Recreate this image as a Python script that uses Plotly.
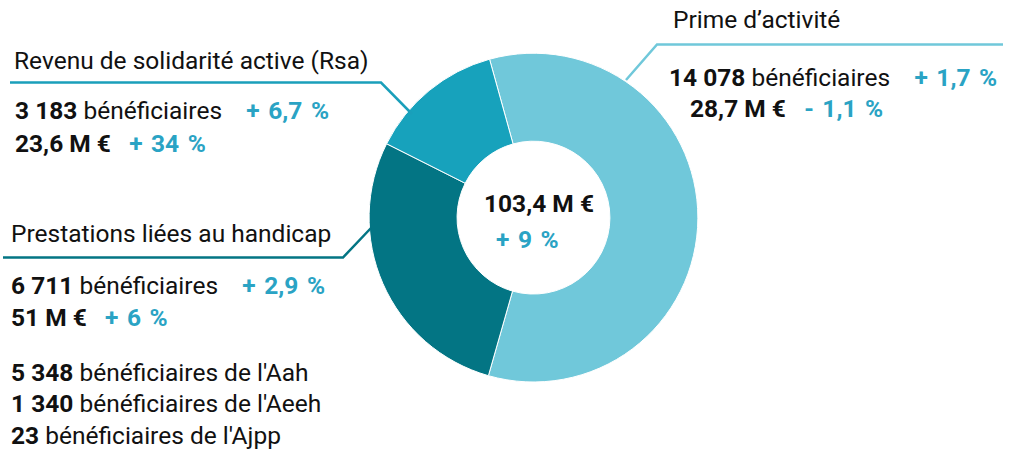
import plotly.graph_objects as go

# Data
categories = ["Prime d’activité", "Prestations liées au handicap", "Revenu de solidarité active (Rsa)"]
beneficiaires = [14078, 6711, 3183]
montants_meur = [28.7, 51, 23.6]
evol_benef = ["+ 1,7 %", "+ 2,9 %", "+ 6,7 %"]
evol_montant = ["- 1,1 %", "+ 6 %", "+ 34 %"]
total_label = "103,4 M €"
total_evol = "+ 9 %"
detail_counts = ["5 348", "1 340", "23"]
detail_labels = ["bénéficiaires de l'Aah", "bénéficiaires de l'Aeeh", "bénéficiaires de l'Ajpp"]

colors = ["#70c8da", "#037584", "#17a2bc"]
accent = "#2aa3c4"
FONT = "Roboto"
FS = 24.5

def fmt_int(n):
    return f"{n:,}".replace(",", " ")

def fmt_m(v):
    s = f"{v:g}".replace(".", ",")
    return f"{s} M €"

fig = go.Figure()
fig.add_trace(go.Pie(
    labels=categories, values=beneficiaires, hole=0.465, sort=False,
    direction="clockwise", rotation=-15.5,
    marker=dict(colors=colors, line=dict(color="white", width=1)),
    textinfo="none", hoverinfo="label+value", showlegend=False,
    domain=dict(x=[0.3653, 0.6911], y=[0.153, 0.882]),
))

W, H = 1010, 451
def px(x): return x / W
def py(y): return 1 - y / H

anns = []
def txt(x, y, s, size=FS, anchor="left"):
    anns.append(dict(x=px(x), y=py(y), xref="paper", yref="paper", text=s, showarrow=False,
                     xanchor=anchor, yanchor="middle", borderpad=0, borderwidth=0,
                     font=dict(family=FONT, size=size, color="#111111")))

def acc(s):
    s = s.replace(" ", "&nbsp;&#8202;")
    return f"<b><span style='color:{accent}'>{s}</span></b>"

SEP = "&nbsp;&nbsp;&nbsp;&nbsp;"
SEP2 = "&nbsp;&nbsp;&nbsp;"

# Rsa (index 2)
txt(14, 60, categories[2])
txt(15, 110, f"<b>{fmt_int(beneficiaires[2])}</b> bénéficiaires{SEP}{acc(evol_benef[2])}")
txt(15, 143, f"<b>{fmt_m(montants_meur[2])}</b>{SEP2}{acc(evol_montant[2])}")
# Prime (index 0)
txt(673, 20, categories[0])
txt(669, 77, f"<b>{fmt_int(beneficiaires[0])}</b> bénéficiaires{SEP}{acc(evol_benef[0])}")
txt(690, 108, f"<b>{fmt_m(montants_meur[0])}</b>{SEP2}{acc(evol_montant[0])}")
# Handicap (index 1)
txt(11, 233, categories[1])
txt(11, 285, f"<b>{fmt_int(beneficiaires[1])}</b> bénéficiaires{SEP}{acc(evol_benef[1])}")
txt(11, 317, f"<b>{fmt_m(montants_meur[1])}</b>{SEP2}{acc(evol_montant[1])}")
for i, (c, l) in enumerate(zip(detail_counts, detail_labels)):
    txt(11, 372 + 31.5 * i, f"<b>{c}</b> {l}")
# Center
txt(539, 203, f"<b>{total_label}</b>", anchor="center")
txt(527, 240, acc(total_evol), anchor="center")

shapes = []
def path(pts, color):
    d = "M " + " L ".join(f"{px(x)},{py(y)}" for x, y in pts)
    shapes.append(dict(type="path", path=d, xref="paper", yref="paper",
                       line=dict(color=color, width=2.5), layer="above"))

path([(10, 82.5), (381, 82.5), (412, 114)], "#1a9fba")
path([(1003, 44.5), (657, 44.5), (626, 80)], "#70c8da")
path([(3, 257.5), (343, 257.5), (371, 228)], "#037584")

fig.update_layout(
    width=W, height=H, margin=dict(l=0, r=0, t=0, b=0),
    paper_bgcolor="white", plot_bgcolor="white",
    annotations=anns, shapes=shapes,
)
fig.write_html("out.html", config={"displayModeBar": False},
               post_script="document.body.style.margin='0';")
